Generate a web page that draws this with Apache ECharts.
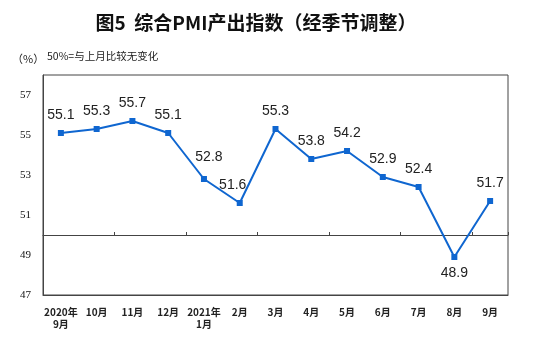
<!DOCTYPE html>
<html>
<head>
<meta charset="utf-8">
<script src="https://cdn.jsdelivr.net/npm/echarts@6/dist/echarts.min.js"></script>
<style>
html,body{margin:0;padding:0;background:#fff;}
#chart{width:550px;height:343px;}
</style>
</head>
<body>
<div id="chart"></div>
<script>
var titleText = '图5  综合PMI产出指数（经季节调整）';
var unitText = '（%）';
var noteText = '50%=与上月比较无变化';
var categories = ['2020年\n9月','10月','11月','12月','2021年\n1月','2月','3月','4月','5月','6月','7月','8月','9月'];
var values = [55.1, 55.3, 55.7, 55.1, 52.8, 51.6, 55.3, 53.8, 54.2, 52.9, 52.4, 48.9, 51.7];
var yTickLabels = [47, 49, 51, 53, 55, 57];
var baseline = 50;

var labelOffsets = {4: [5, -4], 5: [-7, 0]};
var seriesData = values.map(function (v, i) {
  var d = { value: v };
  if (v < baseline) {
    d.label = { position: 'bottom', distance: 6 };
  } else if (labelOffsets[i]) {
    d.label = { offset: labelOffsets[i] };
  }
  return d;
});

var chart = echarts.init(document.getElementById('chart'), null, {renderer: 'canvas'});
chart.setOption({
  animation: false,
  backgroundColor: '#fff',
  grid: {left: 43, right: 42, top: 75, bottom: 48, show: true, borderColor: '#444', borderWidth: 1, backgroundColor: 'transparent'},
  graphic: [
    {type: 'text', x: 256, y: 23, style: {text: titleText, font: 'bold 19px "Noto Sans CJK SC"', fill: '#111', textAlign: 'center', textVerticalAlign: 'middle'}},
    {type: 'text', left: 12, top: 53, style: {text: unitText, font: '11px "Noto Sans CJK SC"', fill: '#222'}},
    {type: 'text', left: 47, top: 51, style: {text: noteText, font: '10.5px "Noto Sans CJK SC"', fill: '#222'}}
  ],
  xAxis: [
    {
      type: 'category', data: categories, position: 'bottom',
      axisLine: {show: true, onZero: false, lineStyle: {color: '#444', width: 1}},
      axisTick: {show: false},
      axisLabel: {interval: 0, margin: 11, fontSize: 10, fontWeight: 'bold', lineHeight: 12, color: '#222', fontFamily: '"Noto Sans CJK SC"'}
    },
    {
      type: 'category', data: categories, position: 'bottom', offset: -60,
      axisLine: {show: true, onZero: false, lineStyle: {color: '#444', width: 1}},
      axisTick: {show: true, inside: true, length: 3, lineStyle: {color: '#444'}},
      axisLabel: {show: false}
    }
  ],
  yAxis: {
    type: 'value', min: 47, max: 58, interval: 1,
    axisLine: {show: true, lineStyle: {color: '#444'}},
    axisTick: {show: false},
    splitLine: {show: false},
    axisLabel: {
      margin: 12, fontSize: 11, color: '#111', fontFamily: '"Liberation Serif"',
      formatter: function (v) { return yTickLabels.indexOf(v) >= 0 ? String(v) : ''; }
    }
  },
  series: [{
    type: 'line', xAxisIndex: 0, data: seriesData,
    symbol: 'rect', symbolSize: 6,
    lineStyle: {color: '#0f66d0', width: 2},
    itemStyle: {color: '#0f66d0'},
    label: {show: true, position: 'top', distance: 8, fontSize: 14, color: '#222', fontFamily: '"Liberation Sans"'}
  }]
});
</script>
</body>
</html>
